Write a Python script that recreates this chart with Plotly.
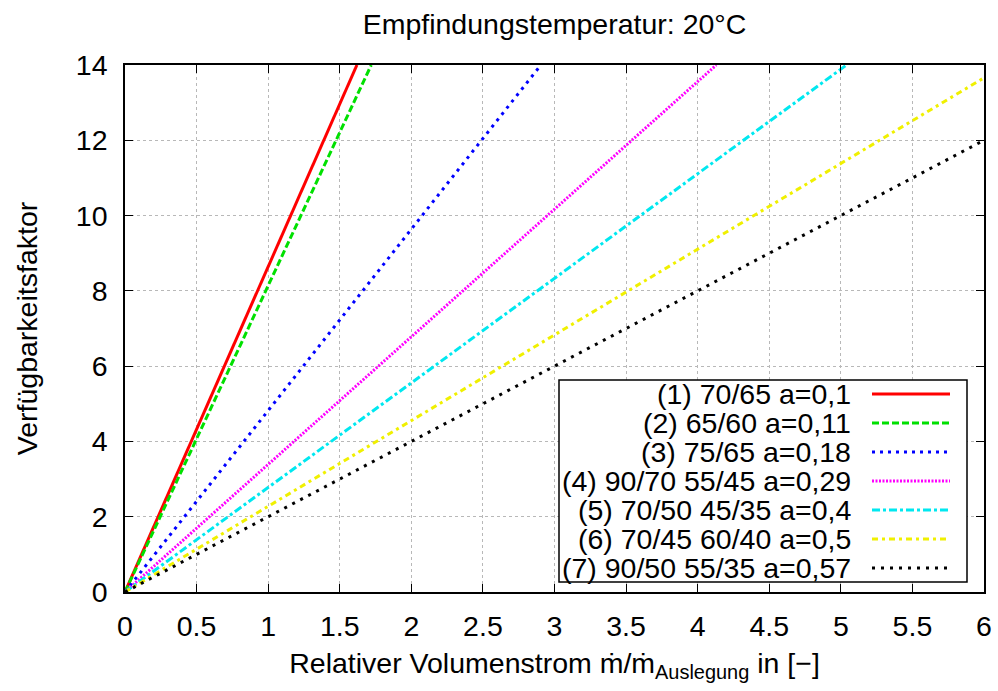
import plotly.graph_objects as go

# Series: end points of each straight line (start at the origin)
labels = [
    "(1) 70/65 a=0,1",
    "(2) 65/60 a=0,11",
    "(3) 75/65 a=0,18",
    "(4) 90/70 55/45 a=0,29",
    "(5) 70/50 45/35 a=0,4",
    "(6) 70/45 60/40 a=0,5",
    "(7) 90/50 55/35 a=0,57",
]
x_start = [0, 0, 0, 0, 0, 0, 0]
y_start = [0, 0, 0, 0, 0, 0, 0]
x_end = [1.62, 1.72, 2.905, 4.13, 5.04, 6.0, 6.0]
y_end = [14, 14, 14, 14, 14, 13.66, 12.0]

colors = ["#ff0000", "#00e000", "#0000ff", "#ff00ff", "#00e8f0", "#f0f000", "#000000"]
dashes = ["solid", "7px,3px", "3px,5px", "2px,1.5px", "8px,3px,3px,3px",
          "6px,4px,3px,4px", "3px,6px"]

x_ticks = [0, 0.5, 1, 1.5, 2, 2.5, 3, 3.5, 4, 4.5, 5, 5.5, 6]
x_tick_text = ["0", "0.5", "1", "1.5", "2", "2.5", "3", "3.5", "4", "4.5", "5", "5.5", "6"]
y_ticks = [0, 2, 4, 6, 8, 10, 12, 14]

FONT = "Liberation Sans, Arial, Helvetica, sans-serif"
FS = 28.5

fig = go.Figure()
for i, name in enumerate(labels):
    fig.add_trace(go.Scatter(
        x=[x_start[i], x_end[i]], y=[y_start[i], y_end[i]],
        mode="lines", name=name, showlegend=False,
        line=dict(color=colors[i], width=3, dash=dashes[i]),
        cliponaxis=True,
    ))

axis_common = dict(
    showgrid=True, gridcolor="#b8b8b8", griddash="dot", gridwidth=1,
    ticks="inside", ticklen=8, tickwidth=1, tickcolor="black",
    showline=True, linecolor="black", linewidth=1.5, mirror="ticks",
    zeroline=False, automargin=False,
    tickfont=dict(family=FONT, size=FS, color="black"),
)

fig.update_layout(
    width=998, height=691,
    margin=dict(l=125, r=14, t=65, b=99, autoexpand=False),
    paper_bgcolor="white", plot_bgcolor="white",
    font=dict(family=FONT, size=FS, color="black"),
    title=dict(text="Empfindungstemperatur: 20°C", xref="paper", x=0.5, xanchor="center",
               y=0.965, yanchor="middle", font=dict(family=FONT, size=FS)),
    xaxis=dict(range=[0, 6], tickvals=x_ticks, ticktext=x_tick_text,
               ticklabelstandoff=8,
               title=dict(text="Relativer Volumenstrom ṁ/ṁ<sub>Auslegung</sub> in [−]",
                          standoff=12, font=dict(family=FONT, size=FS)),
               **axis_common),
    yaxis=dict(range=[0, 14], tickvals=y_ticks, ticklabelstandoff=10,
               title=dict(text="Verfügbarkeitsfaktor", standoff=30,
                          font=dict(family=FONT, size=FS)),
               **axis_common),
    showlegend=False,
)

# Key box in the lower right corner: text right-aligned, line sample to its right
pw, ph = 859.0, 527.0
def px_x(p):
    return (p - 125) / pw
def px_y(p):
    return (592 - p) / ph

fig.add_shape(type="rect", xref="paper", yref="paper",
              x0=px_x(559), x1=px_x(967), y0=px_y(582), y1=px_y(380),
              line=dict(color="black", width=1.5), fillcolor="white", layer="above")
row_y = [394, 423, 452, 481, 510, 539, 568]
for i, name in enumerate(labels):
    fig.add_annotation(xref="paper", yref="paper", x=px_x(853), y=px_y(row_y[i]),
                       text=name, showarrow=False, xanchor="right", yanchor="middle",
                       font=dict(family=FONT, size=FS, color="black"))
    fig.add_shape(type="line", xref="paper", yref="paper",
                  x0=px_x(872), x1=px_x(950), y0=px_y(row_y[i]), y1=px_y(row_y[i]),
                  line=dict(color=colors[i], width=3, dash=dashes[i]), layer="above")

fig.write_html("out.html")
